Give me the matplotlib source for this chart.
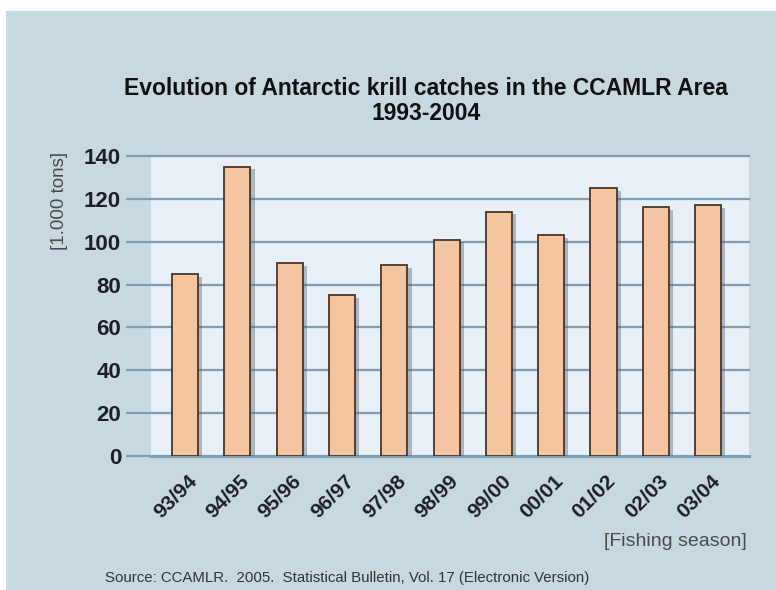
import matplotlib.pyplot as plt
import matplotlib.patheffects as pe
from matplotlib.patches import Rectangle
from matplotlib.transforms import ScaledTranslation

plt.rcParams['font.family'] = ['Liberation Sans', 'DejaVu Sans']

seasons = ["93/94", "94/95", "95/96", "96/97", "97/98", "98/99",
           "99/00", "00/01", "01/02", "02/03", "03/04"]
catch = [85, 135, 90, 75, 89, 101, 114, 103, 125, 116, 117]  # 1000 t
yticks = [0, 20, 40, 60, 80, 100, 120, 140]

bg = "#c8d8e0"
panel = "#e7eff7"
gridc = "#7f9db3"

fig = plt.figure(figsize=(7.76, 5.9), dpi=100, facecolor="white")
# grey-blue card behind the chart
fig.patches.append(Rectangle((6/776, 0), 1, 1 - 11/590, transform=fig.transFigure,
                             facecolor=bg, edgecolor="none", zorder=-10))

ax = fig.add_axes([151/776, 1 - 456/590, 598/776, 300/590])
ax.set_facecolor(panel)
for s in ax.spines.values():
    s.set_visible(False)

x = range(len(seasons))
ax.bar(x, catch, width=0.5, color="#f4c5a1", edgecolor="#4b3528", linewidth=1.3,
       zorder=3,
       path_effects=[pe.SimplePatchShadow(offset=(3, -2), shadow_rgbFace="#556070", alpha=0.4),
                     pe.Normal()])

for v in yticks:
    ax.axhline(v, color=gridc, lw=2.2 if v == 0 else 1.6, zorder=1, clip_on=False)

ax.set_xlim(-0.65, len(seasons) - 0.22)
ax.set_ylim(0, 140)
ax.set_yticks(yticks)
ax.set_yticklabels([str(v) for v in yticks], fontsize=16, fontweight="bold", color="#1e1e28")
ax.tick_params(axis="y", length=18, width=1.6, color=gridc, pad=3.5)

ax.set_xticks(list(x))
ax.set_xticklabels(seasons, rotation=45, ha="right", va="center", rotation_mode="anchor",
                   fontsize=15, fontweight="bold", color="#1e1e28")
ax.tick_params(axis="x", length=0, pad=16)
off = ScaledTranslation(9/100, 0, fig.dpi_scale_trans)
for lab in ax.get_xticklabels():
    lab.set_transform(lab.get_transform() + off)

fig.text(426/776, 1 - 101/590, "Evolution of Antarctic krill catches in the CCAMLR Area\n1993-2004",
         ha="center", va="center", fontsize=16.5, fontweight="bold", color="#111111",
         linespacing=1.1)
fig.text(60/776, 1 - 152/590, "[1.000 tons]", rotation=90, ha="center", va="top",
         fontsize=13.5, color="#4a4a4a")
fig.text(747/776, 1 - 541/590, "[Fishing season]", ha="right", va="center",
         fontsize=14, color="#4a4a4a")
fig.text(105/776, 1 - 578/590,
         "Source: CCAMLR.  2005.  Statistical Bulletin, Vol. 17 (Electronic Version)",
         ha="left", va="center", fontsize=10.8, color="#333333")

fig.savefig("out.png", dpi=100, facecolor=fig.get_facecolor())
